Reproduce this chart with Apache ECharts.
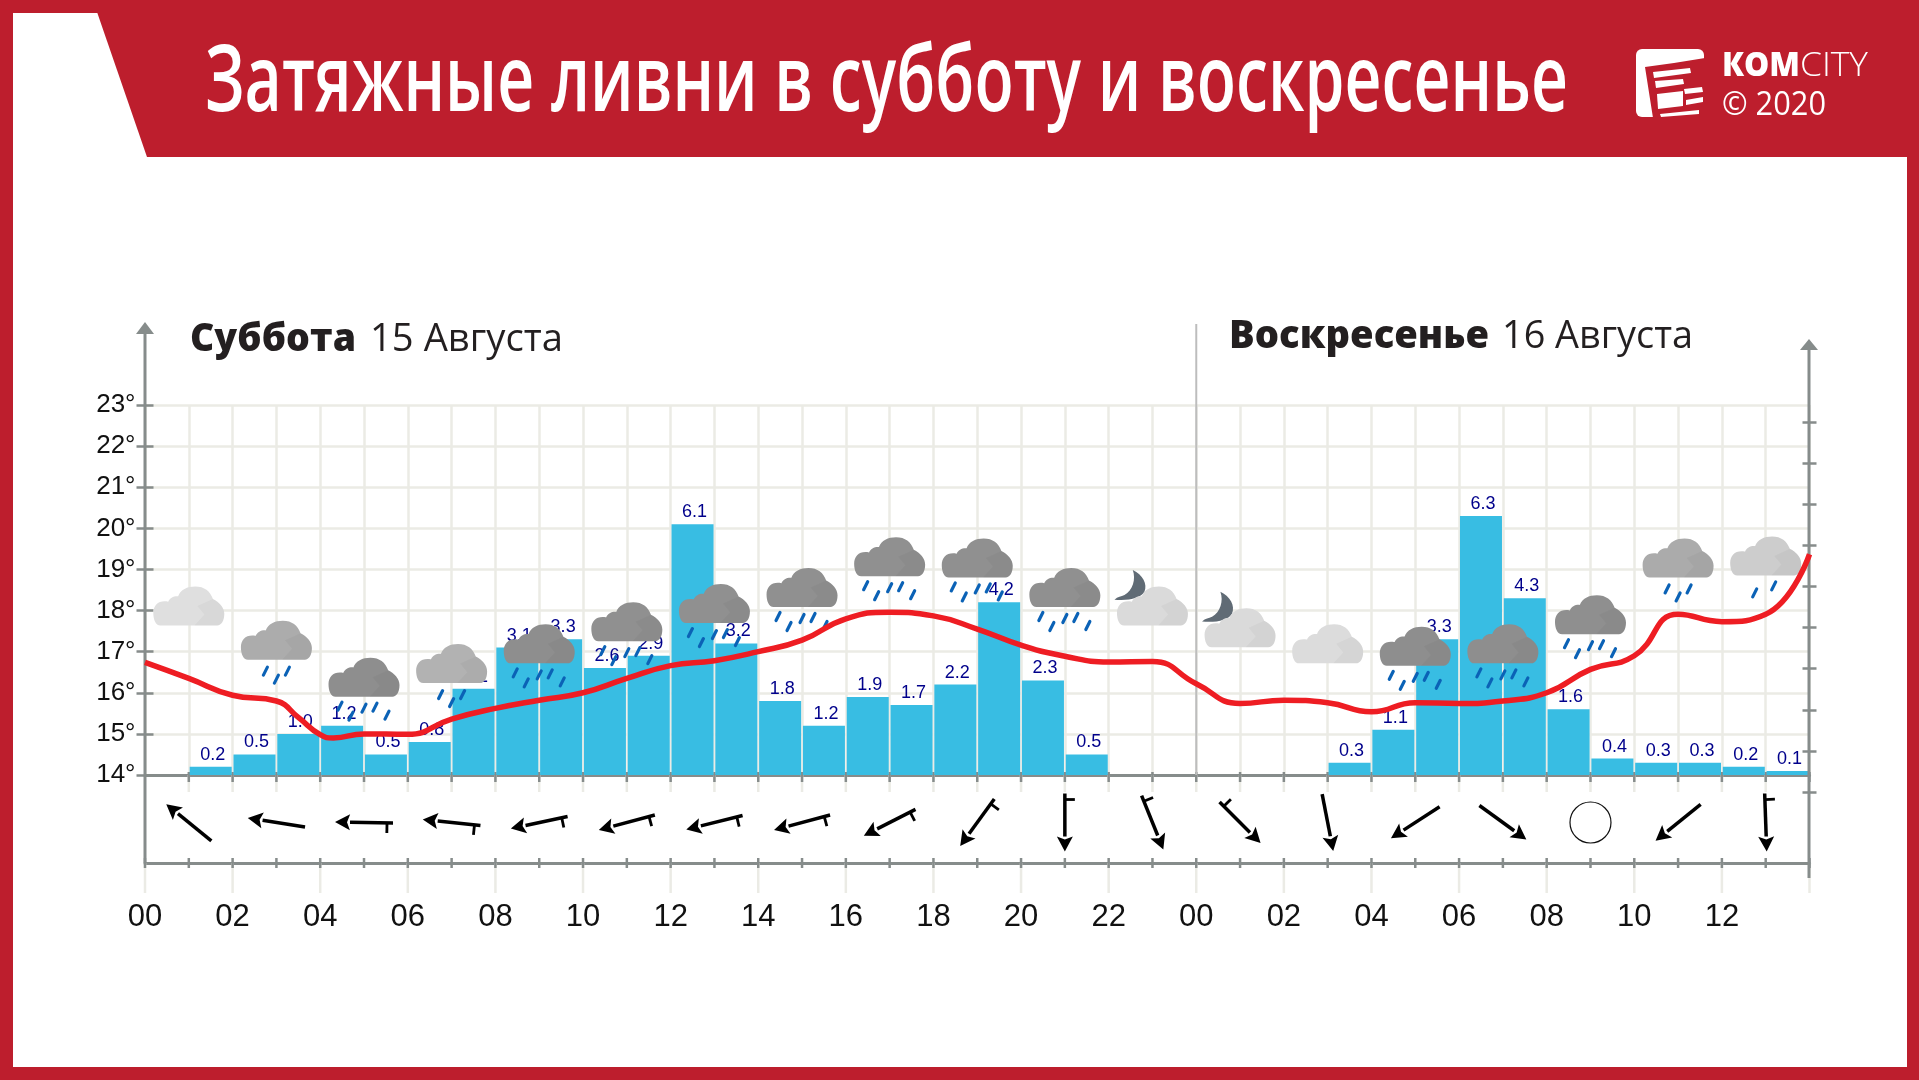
<!DOCTYPE html>
<html><head><meta charset="utf-8">
<style>html,body{margin:0;padding:0;background:#fff}#c{width:1919px;height:1080px}</style>
<script src="https://cdn.jsdelivr.net/npm/echarts@6/dist/echarts.min.js"></script>
</head><body><div id="c"></div>
<script>
const titleText = 'Затяжные ливни в субботу и воскресенье';
const hourLabels = ['00','02','04','06','08','10','12','14','16','18','20','22','00','02','04','06','08','10','12',''];
const tempHours = [0,1,2,3,3.5,4,4.3,5,6,7,8,9,10,11,12,13,14,15,16,17,18,19,20,21,22,23,24,25,26,27,28,29,30,31,32,33,34,35,36,37,38];
const tempValues = [16.74,16.35,15.94,15.8,15.4,14.98,14.9,15.0,14.99,15.36,15.62,15.82,16.0,16.35,16.66,16.78,17.0,17.28,17.8,17.96,17.87,17.55,17.16,16.89,16.75,16.76,16.22,15.74,15.82,15.76,15.54,15.76,15.74,15.8,16.0,16.57,16.9,17.91,17.73,17.91,19.37];
const rainHours = [1.5,2.5,3.5,4.5,5.5,6.5,7.5,8.5,9.5,10.5,11.5,12.5,13.5,14.5,15.5,16.5,17.5,18.5,19.5,20.5,21.5,27.5,28.5,29.5,30.5,31.5,32.5,33.5,34.5,35.5,36.5,37.5];
const rainValues = [0.2,0.5,1.0,1.2,0.5,0.8,2.1,3.1,3.3,2.6,2.9,6.1,3.2,1.8,1.2,1.9,1.7,2.2,4.2,2.3,0.5,0.3,1.1,3.3,6.3,4.3,1.6,0.4,0.3,0.3,0.2,0.1];
const skyHours = [1,3,5,7,9,11,13,15,17,19,21,23,25,27,29,31,33,35,37];
const cloudLevels = [18.11,17.28,16.38,16.71,17.19,17.73,18.17,18.56,19.31,19.28,18.56,18.11,17.58,17.19,17.13,17.19,17.9,19.28,19.33];
const cloudColors = ['#DFDFDF','#ACACAC','#8E8E8E','#B2B2B2','#8E8E8E','#909090','#909090','#909090','#909090','#909090','#909090','#DADADA','#DADADA','#DCDCDC','#8E8E8E','#8E8E8E','#8F8F8F','#ABABAB','#CDCDCD'];
const dropCounts = [0,3,5,3,5,5,5,5,5,5,5,0,0,0,5,5,5,3,2];
const moonFlags = [0,0,0,0,0,0,0,0,0,0,0,1,1,0,0,0,0,0,0];
const windHeadings = [309,279,271,276,258,255,256,255,243,216,180,158,135,169,237,126,null,231,178];
const windBarbs = [0,0,1,1,1,1,1,1,1,1,1,1,1,0,0,0,0,0,1];
const allHours = Array.from({length:39},(_, i)=>i);
const dividerHour = 24;

const RED='#BD1E2D', AXIS='#868C8B', GRID='#EBEBE5';
const CLOUD='M10 100C3 100 0 84 0 68C0 50 6 38 16 38C18 38 19 38 21 39C23 29 29 24 35 25C38 8 48 0 59 0C72 0 80 12 84 32C93 40 100 54 100 70C100 88 96 100 90 100Z';
const FACET='M58 100L72 72L62 50L84 32C93 40 100 54 100 70C100 88 96 100 90 100Z';
const MOON='M55 0C85 15 100 45 90 70C80 90 40 100 0 95C10 85 20 85 30 80C55 65 65 30 55 0Z';
const DROPS={0:[],2:[[-11,37],[8,30]],3:[[-11,31],[0,39],[11,31]],5:[[-24,29],[-13,39],[0,31],[11,30],[23,38]]};

const mctx=document.createElement('canvas').getContext('2d');
function fit(text,x0,x1,y,font,fill){
  mctx.font=font; const w=mctx.measureText(text).width;
  return {type:'text',x:x0,y:y,scaleX:(x1-x0)/w,z:20,style:{text:text,font:font,fill:fill,verticalAlign:'middle',align:'left'}};
}
function vline(x,y1,y2,stroke,w){return {type:'line',z:3,shape:{x1:x,y1:y1,x2:x,y2:y2},style:{stroke:stroke,lineWidth:w}};}
function poly(pts,fill,z){return {type:'polygon',z:z||10,shape:{points:pts},style:{fill:fill}};}

const chart=echarts.init(document.getElementById('c'),null,{renderer:'canvas'});
const L=145,W=1664.5;
const opt={
  animation:false,
  grid:[
    {left:L,width:W,top:405,height:370,show:false},
    {left:L,width:W,top:775,height:88,show:false},
    {left:L,width:W,top:422,height:370,show:false}
  ],
  xAxis:[
    {gridIndex:0,type:'value',min:0,max:38,interval:1,axisLabel:{show:false},axisTick:{show:false},
     axisLine:{show:true,onZero:false,lineStyle:{color:AXIS,width:3}},splitLine:{show:true,lineStyle:{color:GRID,width:2.5}}},
    {gridIndex:1,type:'value',min:0,max:38,interval:2,position:'bottom',axisTick:{show:false},splitLine:{show:false},
     axisLine:{show:true,onZero:false,lineStyle:{color:AXIS,width:3}},
     axisLabel:{show:true,showMinLabel:true,showMaxLabel:true,margin:39,color:'#111',fontFamily:'Liberation Sans',fontSize:31,
       formatter:v=>hourLabels[v/2]}},
    {gridIndex:2,type:'value',min:0,max:38,show:false}
  ],
  yAxis:[
    {gridIndex:0,type:'value',min:14,max:23,interval:1,position:'left',offset:-8.5,
     axisLine:{show:false,onZero:false},axisTick:{show:true,length:17,lineStyle:{color:AXIS,width:2.5}},splitLine:{show:true,lineStyle:{color:GRID,width:2.5}},
     axisLabel:{margin:18,padding:[2,0,0,0],color:'#111',fontFamily:'Liberation Sans',fontSize:26,formatter:'{value}°'}},
    {gridIndex:0,type:'value',min:0,max:9,show:false},
    {gridIndex:1,type:'value',min:0,max:1,show:false},
    {gridIndex:2,type:'value',min:0,max:9,interval:1,position:'right',offset:-7,
     axisLine:{show:false,onZero:false},axisTick:{show:true,length:14,lineStyle:{color:AXIS,width:2.5}},axisLabel:{show:false},splitLine:{show:false}}
  ],
  series:[
    {type:'custom',name:'hour ticks',coordinateSystem:'cartesian2d',xAxisIndex:1,yAxisIndex:2,z:1,clip:false,silent:true,
     data:allHours.map(h=>[h]),encode:{x:0},
     renderItem:(p,api)=>{
       const h=api.value(0),b=api.coord([h,0]),t=api.coord([h,1]),x=b[0],kids=[];
       const ln=(y1,y2,c,w)=>({type:'line',shape:{x1:x,y1:y1,x2:x,y2:y2},style:{stroke:c,lineWidth:w}});
       if(h>0&&h<38) kids.push(ln(t[1],t[1]+17,GRID,2.5));
       if(h%2===0) kids.push(ln(b[1],b[1]+30,GRID,2.5));
       if(h>0) kids.push(ln(t[1]-3,t[1]+7,AXIS,2.5));
       kids.push(ln(b[1]-5,b[1]+5,AXIS,2.5));
       return {type:'group',children:kids};
     }},
    {type:'custom',name:'day divider',coordinateSystem:'cartesian2d',xAxisIndex:0,yAxisIndex:0,z:1,clip:false,silent:true,
     data:[[dividerHour]],encode:{x:0},
     renderItem:(p,api)=>{
       const a=api.coord([api.value(0),14]),b=api.coord([api.value(0),23]);
       return {type:'line',shape:{x1:a[0],y1:a[1],x2:a[0],y2:b[1]-81},style:{stroke:'#BDBDBD',lineWidth:2}};
     }},
    {type:'bar',name:'Осадки',xAxisIndex:0,yAxisIndex:1,z:2,barWidth:42,
     data:rainHours.map((h,i)=>[h,rainValues[i]]),
     itemStyle:{color:'#38BDE3'},
     label:{show:true,position:'top',distance:3,offset:[2,0],color:'#00008B',fontFamily:'Liberation Sans',fontSize:18,formatter:p=>p.value[1].toFixed(1)}},
    {type:'custom',name:'Погода',coordinateSystem:'cartesian2d',xAxisIndex:0,yAxisIndex:0,z:5,clip:false,silent:true,
     data:skyHours.map((h,i)=>[h,cloudLevels[i],i]),encode:{x:0,y:1},
     renderItem:(p,api)=>{
       const i=api.value(2),c=api.coord([api.value(0),api.value(1)]),cx=c[0],cy=c[1],col=cloudColors[i],kids=[];
       const cw=71,ch=39,l=cx-cw/2,t=cy-ch/2;
       (DROPS[dropCounts[i]]||[]).forEach(d=>kids.push({type:'line',shape:{x1:cx+d[0]-2,y1:cy+d[1]+4,x2:cx+d[0]+2,y2:cy+d[1]-4},style:{stroke:'#0B62B6',lineWidth:3.2,lineCap:'round'}}));
       if(moonFlags[i]) kids.push({type:'path',shape:{pathData:MOON,layout:'cover',x:cx-38,y:cy-36,width:31,height:30},style:{fill:'#606B75'}});
       kids.push({type:'path',shape:{pathData:CLOUD,layout:'cover',x:l,y:t,width:cw,height:ch},style:{fill:col}});
       kids.push({type:'path',shape:{pathData:FACET,layout:'cover',x:l+.58*cw,y:t+.32*ch,width:.42*cw,height:.68*ch},style:{fill:'rgba(0,0,0,0.03)'}});
       return {type:'group',children:kids};
     }},
    {type:'custom',name:'Ветер',coordinateSystem:'cartesian2d',xAxisIndex:1,yAxisIndex:2,z:5,clip:false,silent:true,
     data:skyHours.map((h,i)=>[h,0.46,i]),encode:{x:0,y:1},
     renderItem:(p,api)=>{
       const i=api.value(2),c=api.coord([api.value(0),api.value(1)]),head=windHeadings[i];
       if(head===null) return {type:'circle',shape:{cx:c[0],cy:c[1],r:20.5},style:{fill:'#fff',stroke:'#111',lineWidth:1.2}};
       const a=head*Math.PI/180,ux=Math.sin(a),uy=-Math.cos(a),len=29;
       const tx=c[0]-ux*len,ty=c[1]-uy*len,hx=c[0]+ux*len,hy=c[1]+uy*len;
       const bx=hx-ux*15,by=hy-uy*15,px=-uy,py=ux;
       const kids=[
         {type:'line',shape:{x1:tx,y1:ty,x2:bx,y2:by},style:{stroke:'#000',lineWidth:3.5}},
         {type:'polygon',shape:{points:[[hx,hy],[bx+px*8,by+py*8],[bx+ux*3,by+uy*3],[bx-px*8,by-py*8]]},style:{fill:'#000'}}
       ];
       if(windBarbs[i]){const sx=tx+ux*6,sy=ty+uy*6;kids.push({type:'line',shape:{x1:sx,y1:sy,x2:sx+uy*10,y2:sy-ux*10},style:{stroke:'#000',lineWidth:2.8}});}
       return {type:'group',children:kids};
     }},
    {type:'line',name:'Температура',xAxisIndex:0,yAxisIndex:0,z:6,smooth:0.5,showSymbol:false,symbol:'none',
     data:tempHours.map((h,i)=>[h,tempValues[i]]),lineStyle:{color:'#EE1D23',width:5.5}}
  ],
  graphic:{elements:[
    poly([[0,0],[1919,0],[1919,1080],[0,1080],[0,0],[13,13],[13,1067],[1907,1067],[1907,13],[13,13]],RED,0),
    poly([[97,12],[1908,12],[1908,157],[147,157]],RED),
    vline(145,330,863,AXIS,3),
    poly([[145,322],[154,334],[136,334]],AXIS),
    vline(1809,347,878,AXIS,3),
    poly([[1809,339],[1818,350],[1800,350]],AXIS),
    fit(titleText,205,1568,84,'600 93px "Open Sans"','#fff'),
    fit('Суббота',190,356,340,'800 38px "Open Sans"','#231F20'),
    fit('15 Августа',370,563,340,'400 38px "Open Sans"','#231F20'),
    fit('Воскресенье',1229,1489,337,'800 38px "Open Sans"','#231F20'),
    fit('16 Августа',1502,1693,337,'400 38px "Open Sans"','#231F20'),
    fit('КОМ',1722,1800,67,'800 33px "Open Sans"','#fff'),
    fit('CITY',1800,1868,67,'300 33px "Open Sans"','#fff'),
    fit('© 2020',1722,1826,106,'400 33px "Open Sans"','#fff'),
    {type:'rect',z:10,shape:{x:1636,y:49,width:68,height:68,r:6},style:{fill:'#fff'}},
    poly([[1645,67],[1674,63],[1705,58],[1705,118],[1653,118]],RED,11),
    poly([[1653,72],[1690,68],[1691,73],[1654,78]],'#fff',12),
    poly([[1655,81],[1683,79],[1684,84],[1656,88]],'#fff',12),
    poly([[1657,94],[1683,91],[1683,106],[1658,109]],'#fff',12),
    poly([[1684,89],[1702,87],[1703,92],[1685,94]],'#fff',12),
    poly([[1686,100],[1703,97],[1703,102],[1686,105]],'#fff',12),
    poly([[1660,114],[1699,110],[1699,114],[1661,117]],'#fff',12)
  ]}
};
chart.setOption(opt);
</script></body></html>
